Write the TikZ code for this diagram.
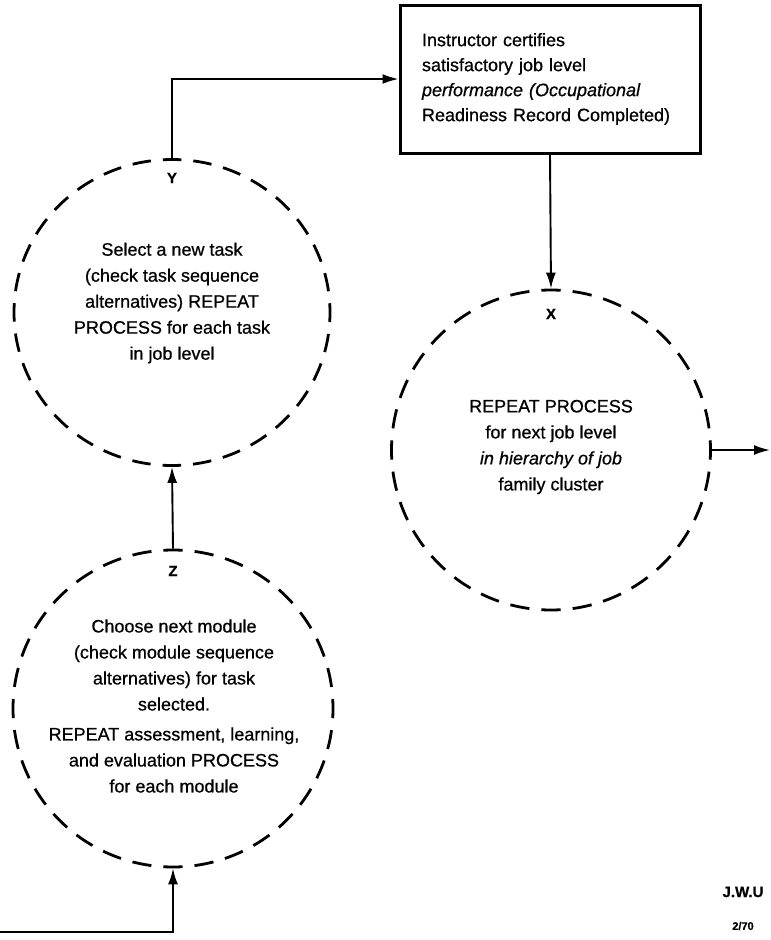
\documentclass[tikz,border=0pt]{standalone}
\usepackage{fontspec}
\setmainfont{Liberation Sans}[FakeBold=0.7]
\usetikzlibrary{arrows.meta,shapes.geometric}
\begin{document}
\begin{tikzpicture}[x=1pt,y=-1pt,
  proc/.style={ellipse,draw,line width=2.8pt,inner sep=0pt},
  body/.style={align=center,font=\fontsize{18}{26}\selectfont},
  tag/.style={font=\bfseries\fontsize{15}{20}\selectfont},
  flow/.style={line width=1.9pt,-{Latex[length=16pt,width=10pt]}},
  certbox/.style={draw,line width=3pt,minimum width=300pt,minimum height=148pt,
    inner xsep=22pt,text width=256pt,align=left,font=\fontsize{18}{25}\selectfont}]
\useasboundingbox (0,0) rectangle (771,940);

% certification box
\node[certbox] (cert) at (550,79) {Instructor certifies\\
  satisfactory job level\\
  \textit{performance (Occupational}\\
  Readiness Record Completed)};

% process circles (32 dashes each, one centred on every axis point)
\node[proc,minimum width=316pt,minimum height=306pt,
  dash pattern=on 18.53pt off 12pt,dash phase=9.27pt] (Y) at (172,312.5) {};
\node[proc,minimum width=320pt,minimum height=317pt,
  dash pattern=on 19.27pt off 12pt,dash phase=9.63pt] (Z) at (173,708.5) {};
\node[proc,minimum width=319pt,minimum height=320pt,
  dash pattern=on 19.37pt off 12pt,dash phase=9.68pt] (X) at (551,450) {};

% circle letters
\node[tag] (Ylbl) at (172,178) {Y};
\node[tag] (Zlbl) at (173,571) {Z};
\node[tag] (Xlbl) at (551,314) {X};

% circle texts
\node[body] (Ytxt) at (172,303) {Select a new task\\
  (check task sequence\\
  alternatives) REPEAT\\
  PROCESS for each task\\
  in job level};
\node[body] (Ztxt) at (174,706) {Choose next module\\
  (check module sequence\\
  alternatives) for task\\
  selected.\\[4pt]
  REPEAT assessment, learning,\\
  and evaluation PROCESS\\
  for each module};
\node[body] (Xtxt) at (551,447) {REPEAT PROCESS\\
  for next job level\\
  \textit{in hierarchy of job}\\
  family cluster};

% initials and date
\node[font=\bfseries\fontsize{15}{18}\selectfont] (init) at (743,892) {J.W.U};
\node[font=\bfseries\fontsize{11}{14}\selectfont] (date) at (743,926) {2/70};

% connectors
\coordinate (inlet) at (0,932);
\coordinate (outlet) at (770,450);
\draw[flow] (Y.north) |- (cert.west);
\draw[flow] (cert.south) -- (X.north);
\draw[flow] (Z.north) -- (Y.south);
\draw[flow] (inlet) -| (Z.south);
\draw[flow] (X.east) -- (outlet);
\end{tikzpicture}
\end{document}
